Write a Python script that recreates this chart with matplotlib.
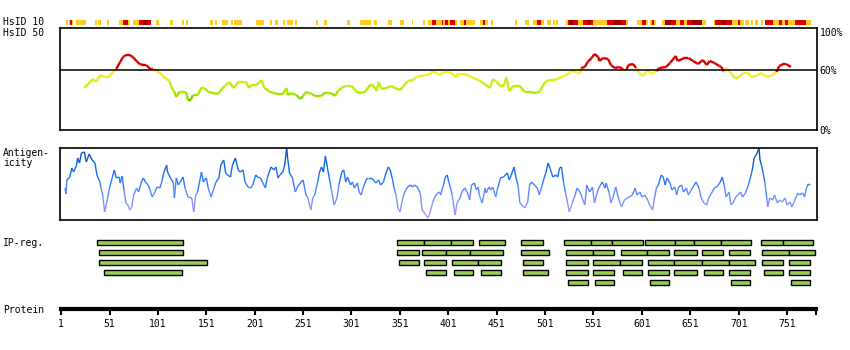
import numpy as np
import matplotlib.pyplot as plt
from matplotlib.collections import LineCollection
from matplotlib.colors import LinearSegmentedColormap

plt.rcParams['font.family'] = ['DejaVu Sans Mono']

protein_length = 781
ruler_ticks = [1, 51, 101, 151, 201, 251, 301, 351, 401, 451, 501, 551, 601, 651, 701, 751]

# HsID 10 strip: (start, end, level)  level 1 = >=10% orange, 2 = red, 3 = dark red
hsid10_start = [6, 9, 10, 12, 16, 36, 39, 48, 61, 65, 70, 75, 81, 86, 91, 99, 114, 126, 130,
                155, 160, 167, 177, 180, 202, 208, 217, 222, 230, 234, 243, 264, 273, 296, 310,
                324, 339, 351, 363, 375, 380, 384, 388, 394, 396, 398, 401, 403, 408, 413, 417,
                419, 434, 437, 439, 445, 470, 480, 489, 493, 497, 503, 509, 512, 523, 525, 527,
                530, 535, 540, 544, 547, 551, 565, 572, 579, 585, 596, 601, 605, 609, 611, 614,
                622, 625, 631, 636, 640, 644, 648, 653, 663, 666, 675, 677, 679, 684, 688, 694,
                700, 702, 708, 714, 718, 724, 728, 736, 743, 746, 749, 752, 759, 771]
hsid10_end = [8, 10, 12, 13, 27, 38, 42, 50, 65, 70, 72, 81, 86, 91, 94, 102, 117, 128, 132,
              158, 162, 173, 179, 188, 207, 211, 219, 225, 232, 241, 245, 266, 276, 299, 321,
              327, 343, 355, 365, 377, 384, 388, 394, 396, 398, 401, 403, 408, 410, 417, 419,
              429, 437, 439, 442, 447, 472, 484, 493, 497, 500, 507, 511, 514, 525, 527, 530,
              535, 540, 544, 547, 551, 565, 572, 579, 585, 587, 601, 605, 607, 611, 614, 616,
              625, 631, 636, 640, 644, 648, 653, 663, 666, 667, 677, 679, 684, 688, 694, 700,
              702, 707, 712, 716, 721, 726, 736, 743, 746, 749, 752, 759, 771, 776]
hsid10_level = [1, 1, 2, 1, 1, 1, 1, 1, 1, 2, 1, 1, 2, 3, 2, 1, 1, 1, 1,
                1, 1, 1, 1, 1, 1, 1, 1, 1, 1, 1, 1, 1, 1, 1, 1,
                1, 1, 1, 1, 1, 1, 2, 1, 2, 1, 2, 1, 2, 1, 1, 2,
                1, 1, 2, 1, 1, 1, 1, 1, 2, 1, 1, 1, 1, 1, 2, 3,
                2, 1, 2, 3, 2, 1, 2, 3, 2, 1, 1, 2, 1, 1, 2, 1,
                1, 3, 2, 1, 2, 1, 2, 3, 1, 1, 1, 2, 2, 3, 2, 1,
                2, 1, 1, 1, 1, 1, 2, 1, 2, 1, 2, 1, 2, 1]

# HsID 50 profile (% identity)
hsid50_pos = [25, 29, 34, 37, 42, 46, 50, 55, 58, 62, 65, 68, 72, 75, 79, 82, 86, 89, 93, 96,
              99, 103, 106, 110, 113, 115, 118, 120, 123, 130, 132, 135, 137, 142, 146, 149,
              153, 158, 163, 167, 170, 175, 179, 184, 192, 195, 198, 203, 208, 211, 217, 225,
              230, 234, 235, 239, 244, 248, 251, 254, 260, 263, 270, 273, 280, 284, 287, 292,
              296, 301, 304, 308, 315, 320, 323, 327, 329, 332, 337, 342, 346, 351, 354, 359,
              365, 368, 373, 378, 382, 385, 389, 392, 394, 401, 406, 408, 411, 418, 423, 427,
              432, 437, 440, 444, 447, 451, 456, 459, 461, 464, 468, 475, 480, 485, 490, 495,
              501, 506, 511, 516, 520, 525, 528, 533, 537, 538, 542, 545, 549, 552, 556, 557,
              561, 566, 569, 573, 578, 582, 585, 587, 592, 595, 599, 602, 607, 611, 616, 619,
              626, 630, 636, 638, 645, 649, 654, 659, 664, 668, 671, 676, 681, 683, 686, 688,
              693, 697, 702, 705, 711, 714, 719, 724, 730, 733, 736, 740, 743, 747, 750, 755]
hsid50_val = [42, 46, 51, 48, 55, 53, 53, 58, 61, 68, 73, 75, 75, 73, 69, 66, 65, 65, 61, 61,
              59, 57, 54, 51, 49, 43, 38, 33, 38, 38, 30, 30, 35, 35, 42, 42,
              38, 37, 36, 41, 44, 48, 42, 48, 48, 42, 45, 45, 50, 42, 38, 36,
              36, 42, 35, 37, 35, 31, 34, 38, 36, 34, 34, 37, 37, 34, 39, 43,
              44, 44, 41, 37, 38, 45, 45, 39, 48, 41, 42, 44, 42, 40, 43, 49,
              50, 53, 54, 55, 56, 59, 57, 55, 57, 58, 56, 53, 56, 56, 54, 52,
              50, 47, 45, 42, 51, 48, 43, 46, 53, 39, 44, 44, 38, 38, 37, 38,
              48, 50, 50, 52, 54, 56, 59, 58, 56, 62, 63, 68, 72, 76, 73, 69,
              72, 71, 65, 62, 63, 60, 60, 65, 66, 62, 56, 54, 60, 56, 59, 62,
              63, 67, 74, 69, 72, 72, 69, 66, 70, 65, 69, 67, 64, 63, 58, 62,
              57, 52, 53, 57, 57, 53, 54, 57, 53, 54, 55, 58, 64, 66, 66, 63]

# antigenicity profile (arbitrary units)
antig_pos = [5, 6, 7, 10, 12, 14, 17, 18, 20, 22, 25, 27, 30, 33, 36, 38, 41, 42, 44, 46, 48, 49,
             51, 54, 56, 58, 61, 62, 64, 66, 68, 70, 72, 74, 76, 79, 81, 84, 86, 88, 91, 93, 95,
             98, 100, 103, 105, 107, 110, 111, 114, 117, 118, 120, 122, 124, 127, 129, 132, 136,
             138, 140, 142, 146, 148, 151, 153, 156, 159, 161, 164, 166, 169, 171, 173, 176, 178,
             181, 184, 186, 189, 191, 194, 197, 199, 202, 204, 207, 209, 212, 214, 216, 218, 221,
             223, 225, 227, 230, 232, 234, 235, 237, 240, 243, 245, 249, 251, 254, 256, 259, 261,
             263, 266, 268, 270, 272, 274, 276, 278, 280, 283, 286, 288, 291, 293, 295, 297, 300,
             302, 304, 307, 309, 311, 313, 316, 318, 321, 324, 326, 329, 331, 334, 336, 339, 341,
             343, 345, 347, 349, 351, 354, 356, 359, 362, 364, 366, 369, 372, 374, 378, 380, 382,
             385, 387, 390, 392, 393, 396, 398, 400, 401, 403, 405, 407, 408, 410, 413, 415, 418,
             421, 423, 425, 428, 430, 432, 433, 436, 439, 440, 443, 445, 447, 450, 452, 455, 458,
             460, 462, 464, 466, 469, 471, 473, 475, 477, 480, 483, 485, 487, 490, 493, 495, 498,
             500, 502, 504, 506, 509, 512, 514, 516, 518, 520, 522, 524, 526, 529, 532, 534, 537,
             539, 542, 544, 547, 550, 552, 555, 557, 560, 563, 564, 567, 569, 571, 574, 576, 578,
             580, 583, 586, 588, 591, 594, 596, 599, 601, 604, 607, 609, 612, 614, 616, 618, 621,
             623, 625, 627, 630, 632, 635, 637, 639, 642, 644, 647, 649, 652, 655, 657, 660, 662,
             665, 668, 670, 673, 676, 678, 680, 682, 684, 686, 688, 691, 693, 695, 698, 700, 703,
             705, 708, 711, 713, 715, 717, 719, 720, 722, 723, 725, 726, 728, 730, 731, 733, 736,
             738, 741, 743, 746, 749, 751, 754, 756, 759, 762, 764, 767, 769, 771, 773, 775]
antig_val = [32, 26, 40, 43, 52, 48, 55, 62, 57, 67, 68, 58, 66, 60, 57, 45, 38, 33, 25, 8, 17, 22,
             32, 43, 50, 42, 43, 37, 44, 30, 17, 15, 10, 13, 25, 32, 28, 38, 42, 38, 35, 30, 23,
             28, 33, 32, 38, 47, 55, 48, 42, 37, 22, 42, 35, 38, 43, 32, 23, 22,
             8, 25, 28, 48, 38, 42, 32, 23, 32, 38, 42, 55, 60, 47, 45, 43, 55,
             62, 50, 48, 50, 38, 33, 32, 35, 45, 43, 42, 38, 32, 42, 48, 53, 50,
             53, 42, 45, 48, 55, 72, 62, 47, 42, 28, 33, 38, 40, 25, 22, 10, 22,
             25, 38, 48, 53, 48, 64, 53, 42, 32, 15, 22, 35, 48, 50, 38, 43, 35,
             38, 32, 37, 28, 25, 32, 40, 42, 42, 40, 37, 40, 35, 38, 45, 53, 50,
             42, 32, 25, 12, 8, 22, 28, 33, 35, 33, 35, 33, 27, 10, 5, 2, 7,
             18, 23, 27, 28, 25, 35, 43, 45, 40, 33, 25, 12, 5, 17, 22, 28, 32,
             27, 20, 35, 37, 30, 33, 25, 17, 32, 27, 33, 30, 33, 23, 32, 42, 43,
             45, 47, 40, 45, 53, 42, 35, 17, 15, 12, 18, 35, 38, 35, 32, 25, 35,
             42, 48, 57, 52, 43, 45, 43, 52, 53, 38, 28, 18, 8, 17, 25, 32, 28,
             23, 15, 35, 28, 33, 17, 28, 33, 38, 32, 37, 28, 17, 22, 33, 25, 18,
             13, 20, 22, 23, 25, 32, 25, 28, 23, 25, 20, 15, 10, 22, 32, 35, 45,
             43, 35, 42, 37, 30, 33, 25, 33, 35, 28, 32, 25, 30, 35, 38, 32, 23,
             17, 15, 22, 27, 32, 33, 35, 38, 43, 35, 23, 28, 15, 17, 23, 25, 28,
             23, 27, 35, 42, 50, 62, 65, 67, 72, 60, 53, 48, 38, 22, 13, 22, 20,
             25, 17, 20, 18, 22, 15, 18, 13, 20, 27, 25, 27, 23, 32, 36, 35]

# IP-regions: rows of (start, end)
ip_row = [0, 1, 2, 3,
          0, 0, 0, 0, 0, 0, 0, 0, 0, 0, 0, 0, 0, 0,
          1, 1, 1, 1, 1, 1, 1, 1, 1, 1, 1, 1, 1, 1,
          2, 2, 2, 2, 2, 2, 2, 2, 2, 2, 2, 2, 2, 2,
          3, 3, 3, 3, 3, 3, 3, 3, 3, 3, 3, 3, 3,
          4, 4, 4, 4, 4]
ip_start = [38, 40, 40, 45,
            348, 376, 404, 433, 476, 521, 548, 570, 604, 635, 655, 683, 724, 747,
            348, 374, 399, 423, 476, 523, 551, 579, 606, 634, 663, 691, 725, 753,
            350, 376, 405, 432, 478, 523, 551, 578, 607, 634, 663, 691, 725, 753,
            378, 407, 435, 478, 523, 551, 581, 607, 634, 665, 691, 727, 753,
            525, 553, 609, 693, 755]
ip_end = [127, 127, 152, 126,
          376, 404, 427, 460, 499, 548, 570, 602, 635, 655, 683, 714, 747, 778,
          371, 399, 423, 458, 505, 551, 572, 606, 629, 658, 685, 713, 753, 780,
          371, 399, 432, 455, 499, 545, 578, 601, 634, 663, 691, 718, 747, 775,
          399, 427, 455, 504, 545, 572, 601, 629, 658, 685, 713, 747, 775,
          545, 572, 629, 713, 775]

W, H = 850, 350
XLIM = (-0.14, 781.9)
fig = plt.figure(figsize=(W / 100, H / 100), dpi=100)


def box(x, y, w, h):
    ax = fig.add_axes([x / W, 1 - (y + h) / H, w / W, h / H])
    ax.set_xlim(*XLIM)
    return ax


def colored_line(ax, xs, ys, colors, lw):
    pts = np.column_stack([xs, ys]).reshape(-1, 1, 2)
    segs = np.concatenate([pts[:-1], pts[1:]], axis=1)
    ax.add_collection(LineCollection(segs, colors=colors, linewidths=lw, capstyle='butt'))


# HsID 10 strip
ax = box(60, 20, 757, 5)
strip_colors = {1: '#ffcc22', 2: '#dd0000', 3: '#a00000'}
s = np.array(hsid10_start)
e = np.array(hsid10_end)
ax.barh(0, e - s, left=s, height=1, color=[strip_colors[l] for l in hsid10_level], linewidth=0)
ax.set_ylim(-0.5, 0.5)
ax.axis('off')

# HsID 50 profile
ax = box(60, 28, 757, 102)
ax.set_ylim(0, 102)
green_yellow = LinearSegmentedColormap.from_list(
    'gy', [(0, '#66bb00'), (0.12, '#99dd00'), (0.28, '#aaee00'), (0.5, '#c4ee11'),
           (0.75, '#e8ee22'), (1, '#ffee33')])
v = np.array(hsid50_val, dtype=float)
mid = (v[:-1] + v[1:]) / 2
cols = ['#dd0000' if m >= 60.5 else green_yellow(np.clip((m - 30) / 30, 0, 1)) for m in mid]
colored_line(ax, hsid50_pos, v, cols, 1.7)
ax.axhline(60, color='black', lw=1.1)
ax.yaxis.tick_right()
ax.set_yticks([0, 60, 98])
ax.set_yticklabels(['0%', '60%', '100%'], fontsize=7)
ax.tick_params(axis='y', length=0, pad=2)
ax.set_xticks([])
for sp in ax.spines.values():
    sp.set_linewidth(1.2)

# Antigenicity
ax = box(60, 148, 757, 72)
ax.set_ylim(0, 72)
blues = LinearSegmentedColormap.from_list(
    'ag', [(0, '#aa99ff'), (0.2, '#8c94ff'), (0.4, '#5a88ff'), (0.55, '#2277ff'),
           (0.8, '#0a60dd'), (1, '#0048aa')])
a = np.array(antig_val, dtype=float)
amid = (a[:-1] + a[1:]) / 2
colored_line(ax, antig_pos, a, [blues(m / 72) for m in amid], 1.0)
ax.set_xticks([])
ax.set_yticks([])
for sp in ax.spines.values():
    sp.set_linewidth(1.2)

# IP-regions
ax = box(60, 237.5, 757, 50)
ax.set_ylim(4.5, -0.5)
ip_s = np.array(ip_start)
ip_e = np.array(ip_end)
ax.barh(ip_row, ip_e - ip_s, left=ip_s, height=0.45, color='#99cc55', edgecolor='black', linewidth=1.0)
ax.axis('off')

# Protein ruler
ax = box(60, 299, 757, 10)
for name in ['top', 'left', 'right']:
    ax.spines[name].set_visible(False)
ax.spines['bottom'].set_linewidth(3)
ax.spines['bottom'].set_bounds(1, protein_length)
ax.set_yticks([])
ax.set_xticks(ruler_ticks + [protein_length])
ax.set_xticklabels([str(t) for t in ruler_ticks] + [''], fontsize=7)
ax.tick_params(axis='x', length=4, width=1.5, pad=3)

# row labels
labels = [('HsID 10', 22), ('HsID 50', 33), ('Antigen-', 153), ('icity', 163.5),
          ('IP-reg.', 243), ('Protein', 310)]
for txt, y in labels:
    fig.text(3 / W, 1 - y / H, txt, fontsize=7, va='center', ha='left')

fig.savefig('out.png', dpi=100, facecolor='white')
